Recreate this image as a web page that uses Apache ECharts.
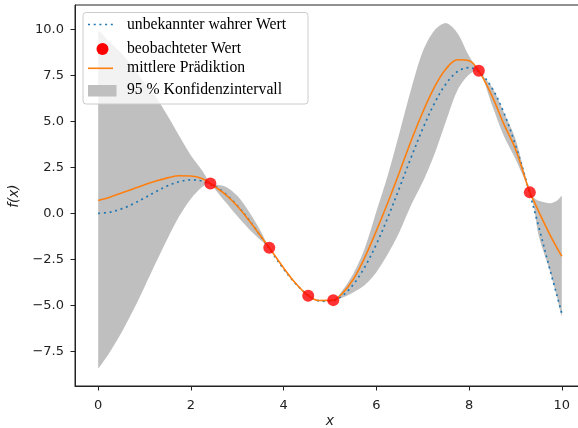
<!DOCTYPE html>
<html>
<head>
<meta charset="utf-8">
<script src="https://cdn.jsdelivr.net/npm/echarts@6/dist/echarts.min.js"></script>
<style>
  html, body { margin: 0; padding: 0; background: #fff; }
  #chart { width: 578px; height: 428px; }
</style>
</head>
<body>
<div id="chart"></div>
<script>
// x grid shared by mean prediction and confidence band
const xs     = [0, 0.25, 0.5, 0.75, 1, 1.25, 1.5, 1.75, 2, 2.25, 2.42, 2.5, 2.75, 3, 3.25, 3.5, 3.69, 4, 4.25, 4.53, 4.75, 5.07, 5.25, 5.5, 5.75, 6, 6.25, 6.5, 6.75, 7, 7.25, 7.5, 7.75, 8, 8.21, 8.5, 8.75, 9, 9.31, 9.4, 9.5, 9.75, 9.9, 10]
const meanY  = [0.70, 0.88, 1.10, 1.33, 1.56, 1.76, 1.93, 2.04, 2.03, 1.88, 1.62, 1.48, 1.02, 0.40, -0.38, -1.22, -1.87, -2.97, -3.78, -4.48, -4.74, -4.72, -4.40, -3.60, -2.40, -0.95, 0.60, 2.25, 3.95, 5.50, 6.85, 7.85, 8.35, 8.30, 7.75, 6.35, 4.85, 3.50, 1.14, 0.65, 0.10, -1.20, -1.90, -2.33]
const lowerY = [-8.45, -7.55, -6.5, -5.3, -4.0, -2.65, -1.35, -0.15, 0.8, 1.45, 1.62, 1.38, 0.6, -0.15, -0.85, -1.45, -1.87, -2.99, -3.8, -4.48, -4.76, -4.72, -4.6, -4.3, -3.9, -3.2, -2.2, -1.0, 0.45, 1.7, 3.2, 5.0, 6.7, 7.55, 7.75, 5.85, 4.2, 2.95, 1.14, 0.3, -1.2, -3.2, -4.6, -5.55]
const upperY = [9.85, 9.3, 8.7, 7.95, 7.1, 6.3, 5.3, 4.2, 3.15, 2.3, 1.62, 1.58, 1.45, 0.95, 0.1, -0.95, -1.87, -2.95, -3.76, -4.48, -4.72, -4.72, -4.25, -3.3, -1.9, 0.1, 2.1, 4.4, 6.75, 8.8, 9.95, 10.35, 9.8, 8.55, 7.75, 6.85, 5.5, 4.05, 1.14, 0.85, 0.68, 0.55, 0.7, 0.92]

// unknown true value
const trueX = [0, 0.25, 0.5, 0.75, 1, 1.25, 1.5, 1.75, 2, 2.25, 2.5, 2.75, 3, 3.25, 3.5, 3.75, 4, 4.25, 4.5, 4.75, 5, 5.25, 5.5, 5.75, 6, 6.25, 6.5, 6.75, 7, 7.25, 7.5, 7.75, 8, 8.25, 8.5, 8.75, 9, 9.25, 9.5, 9.75, 10]
const trueY = [0, 0.06, 0.24, 0.51, 0.84, 1.19, 1.50, 1.72, 1.82, 1.75, 1.50, 1.05, 0.42, -0.35, -1.23, -2.14, -3.03, -3.80, -4.40, -4.75, -4.79, -4.51, -3.88, -2.92, -1.68, -0.21, 1.40, 3.04, 4.60, 5.97, 7.04, 7.71, 7.92, 7.61, 6.79, 5.47, 3.71, 1.61, -0.71, -3.12, -5.44]

// observed points
const obsX = [2.42, 3.69, 4.53, 5.07, 8.21, 9.31]
const obsY = [1.62, -1.87, -4.48, -4.72, 7.75, 1.14]

const xTicks = [0, 2, 4, 6, 8, 10]
const yTicks = [-7.5, -5, -2.5, 0, 2.5, 5, 7.5, 10]

const chart = echarts.init(document.getElementById('chart'))

const tickFont = { fontFamily: 'DejaVu Sans', fontSize: 13, color: '#222' }
const legendFont = 'Liberation Serif'

// band polygon: upper edge left->right, then lower edge right->left
const renderBand = (params, api) => {
  const pts = []
  xs.forEach((x, i) => pts.push(api.coord([x, upperY[i]])))
  for (let i = xs.length - 1; i >= 0; i--) pts.push(api.coord([xs[i], lowerY[i]]))
  const minPt = [Math.min(...pts.map(p => p[0])), Math.min(...pts.map(p => p[1]))]
  const maxPt = [Math.max(...pts.map(p => p[0])), Math.max(...pts.map(p => p[1]))]
  return {
    type: 'polygon',
    shape: { points: pts, smooth: 0.3, smoothConstraint: [minPt, maxPt] },
    style: { fill: '#bfbfbf' }
  }
}

chart.setOption({
  animation: false,
  backgroundColor: '#fff',
  grid: {
    left: 75, top: 5, width: 510, height: 381,
    outerBoundsMode: 'none',
    show: true, borderColor: '#222', borderWidth: 1
  },
  xAxis: {
    type: 'value',
    min: -0.5,
    max: 10.5,
    axisLine: { onZero: false, lineStyle: { color: '#222', width: 1 } },
    axisTick: { customValues: xTicks, length: 4.5, lineStyle: { color: '#222' } },
    axisLabel: { customValues: xTicks, margin: 13, ...tickFont },
    splitLine: { show: false }
  },
  yAxis: {
    type: 'value',
    min: -9.39,
    max: 11.33,
    axisLine: { show: true, onZero: false, lineStyle: { color: '#222', width: 1 } },
    axisTick: { show: true, customValues: yTicks, length: 4.5, lineStyle: { color: '#222' } },
    axisLabel: {
      customValues: yTicks,
      margin: 11,
      ...tickFont,
      formatter: v => v.toFixed(1).replace('-', '\u2212')
    },
    splitLine: { show: false }
  },
  series: [
    {
      name: '95 % Konfidenzintervall',
      type: 'custom',
      renderItem: renderBand,
      data: [[0, 0]],
      encode: { x: 0, y: 1 },
      z: 1
    },
    {
      name: 'unbekannter wahrer Wert',
      type: 'line',
      smooth: 0.35,
      symbol: 'none',
      lineStyle: { color: '#1f77b4', width: 1.7, type: [2, 3.7] },
      data: trueX.map((x, i) => [x, trueY[i]]),
      z: 2
    },
    {
      name: 'mittlere Prädiktion',
      type: 'line',
      smooth: 0.35,
      symbol: 'none',
      lineStyle: { color: '#ff7f0e', width: 1.6 },
      data: xs.map((x, i) => [x, meanY[i]]),
      z: 3
    },
    {
      name: 'beobachteter Wert',
      type: 'scatter',
      symbolSize: 12,
      itemStyle: { color: '#ff0000' },
      data: obsX.map((x, i) => [x, obsY[i]]),
      z: 4
    }
  ],
  graphic: [
    // axis titles
    {
      type: 'text', x: 330, y: 421, z: 50,
      style: { text: 'x', font: 'italic 14px DejaVu Sans', fill: '#222', align: 'center', verticalAlign: 'middle' }
    },
    {
      type: 'text', x: 14, y: 196, rotation: Math.PI / 2, z: 50,
      style: { text: 'f(x)', font: 'italic 13.5px DejaVu Sans', fill: '#222', align: 'center', verticalAlign: 'middle' }
    },
    // legend
    {
      type: 'rect', z: 100,
      shape: { x: 83, y: 12.5, width: 225, height: 91.5, r: 3 },
      style: { fill: 'rgba(255,255,255,0.8)', stroke: '#cccccc', lineWidth: 1 }
    },
    {
      type: 'line', z: 101,
      shape: { x1: 88, y1: 24.5, x2: 113, y2: 24.5 },
      style: { stroke: '#1f77b4', lineWidth: 1.7, lineDash: [2, 3.7] }
    },
    {
      type: 'circle', z: 101,
      shape: { cx: 102.5, cy: 49, r: 6 },
      style: { fill: '#ff0000' }
    },
    {
      type: 'line', z: 101,
      shape: { x1: 88, y1: 68.3, x2: 113, y2: 68.3 },
      style: { stroke: '#ff7f0e', lineWidth: 1.6 }
    },
    {
      type: 'rect', z: 101,
      shape: { x: 88, y: 85, width: 28.5, height: 11.5 },
      style: { fill: '#bfbfbf' }
    },
    {
      type: 'text', x: 127, y: 24.5, z: 101,
      style: { text: 'unbekannter wahrer Wert', font: '15.7px ' + legendFont, fill: '#000', verticalAlign: 'middle' }
    },
    {
      type: 'text', x: 127, y: 49, z: 101,
      style: { text: 'beobachteter Wert', font: '15.7px ' + legendFont, fill: '#000', verticalAlign: 'middle' }
    },
    {
      type: 'text', x: 127, y: 68, z: 101,
      style: { text: 'mittlere Prädiktion', font: '15.7px ' + legendFont, fill: '#000', verticalAlign: 'middle' }
    },
    {
      type: 'text', x: 127, y: 90, z: 101,
      style: { text: '95 % Konfidenzintervall', font: '15.7px ' + legendFont, fill: '#000', verticalAlign: 'middle' }
    }
  ]
})
</script>
</body>
</html>
